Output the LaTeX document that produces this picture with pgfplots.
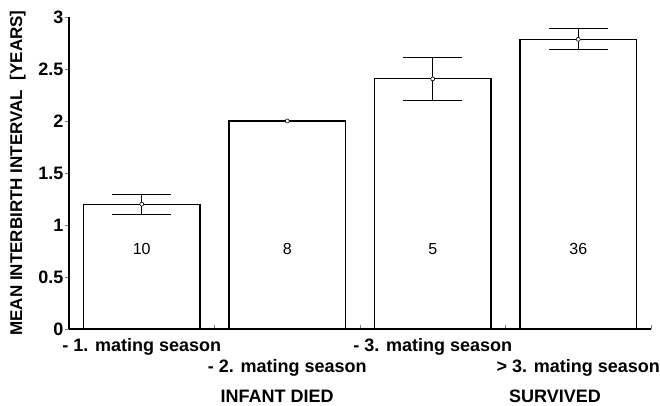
\documentclass[border=0pt]{standalone}
\usepackage{fontspec}
\setmainfont{Liberation Sans}
\usepackage{pgfplots}
\pgfplotsset{compat=1.18}

\begin{document}
\begin{tikzpicture}
\begin{axis}[
    scale only axis,
    width=582pt,
    height=312pt,
    xmin=-0.5, xmax=3.5,
    ymin=0, ymax=3,
    axis lines*=left,
    axis line style={line width=1.2pt},
    xtick={0.5,1.5,2.5,3.5},
    xticklabels={},
    ytick={0,0.5,1,1.5,2,2.5,3},
    yticklabels={0,0.5,1,1.5,2,2.5,3},
    /pgf/number format/assume math mode=true,
    tick align=inside,
    major tick length=4pt,
    ytick style={xshift=-4pt, line width=0.8pt},
    xtick style={line width=0.8pt},
    yticklabel style={font=\bfseries\fontsize{18}{18}\selectfont, xshift=-2pt},
    ylabel={MEAN INTERBIRTH INTERVAL\ \ [YEARS]},
    ylabel style={font=\bfseries\fontsize{17}{17}\selectfont, yshift=6pt},
    clip=false,
]
\addplot[ybar, bar width=0.8, draw=black, fill=white, line width=1.2pt]
    coordinates {(0,1.2) (1,2.0) (2,2.405) (3,2.785)};
\addplot[only marks, mark=*, mark size=2pt,
    mark options={fill=white, draw=black, line width=0.6pt},
    error bars/.cd, y dir=both, y explicit, error mark=|,
    error bar style={line width=1pt, black},
    error mark options={mark size=29.5pt, line width=1pt, black}]
    coordinates {(0,1.2) +- (0,0.095) (2,2.405) +- (0,0.21) (3,2.785) +- (0,0.1)};
\addplot[only marks, mark=*, mark size=2pt,
    mark options={fill=white, draw=black, line width=0.6pt}]
    coordinates {(1,2.0)};
\begin{scope}[every node/.style={font=\fontsize{16}{16}\selectfont}]
\node at (axis cs:0,0.77) {10};
\node at (axis cs:1,0.77) {8};
\node at (axis cs:2,0.77) {5};
\node at (axis cs:3,0.77) {36};
\end{scope}
\begin{scope}[every node/.style={font=\bfseries\fontsize{18}{18}\selectfont}]
\node at ([yshift=-18pt]axis cs:0,0) {- 1. mating season};
\node at ([yshift=-39pt]axis cs:1,0) {- 2. mating season};
\node at ([yshift=-18pt]axis cs:2,0) {- 3. mating season};
\node at ([yshift=-39pt]axis cs:3,0) {> 3. mating season};
\node at ([yshift=-67pt]axis cs:0.93,0) {INFANT DIED};
\node at ([yshift=-67pt]axis cs:2.84,0) {SURVIVED};
\end{scope}
\end{axis}
\pgfresetboundingbox
\path[use as bounding box] (-69pt,-76pt) rectangle (591pt,329pt);
\end{tikzpicture}
\end{document}
